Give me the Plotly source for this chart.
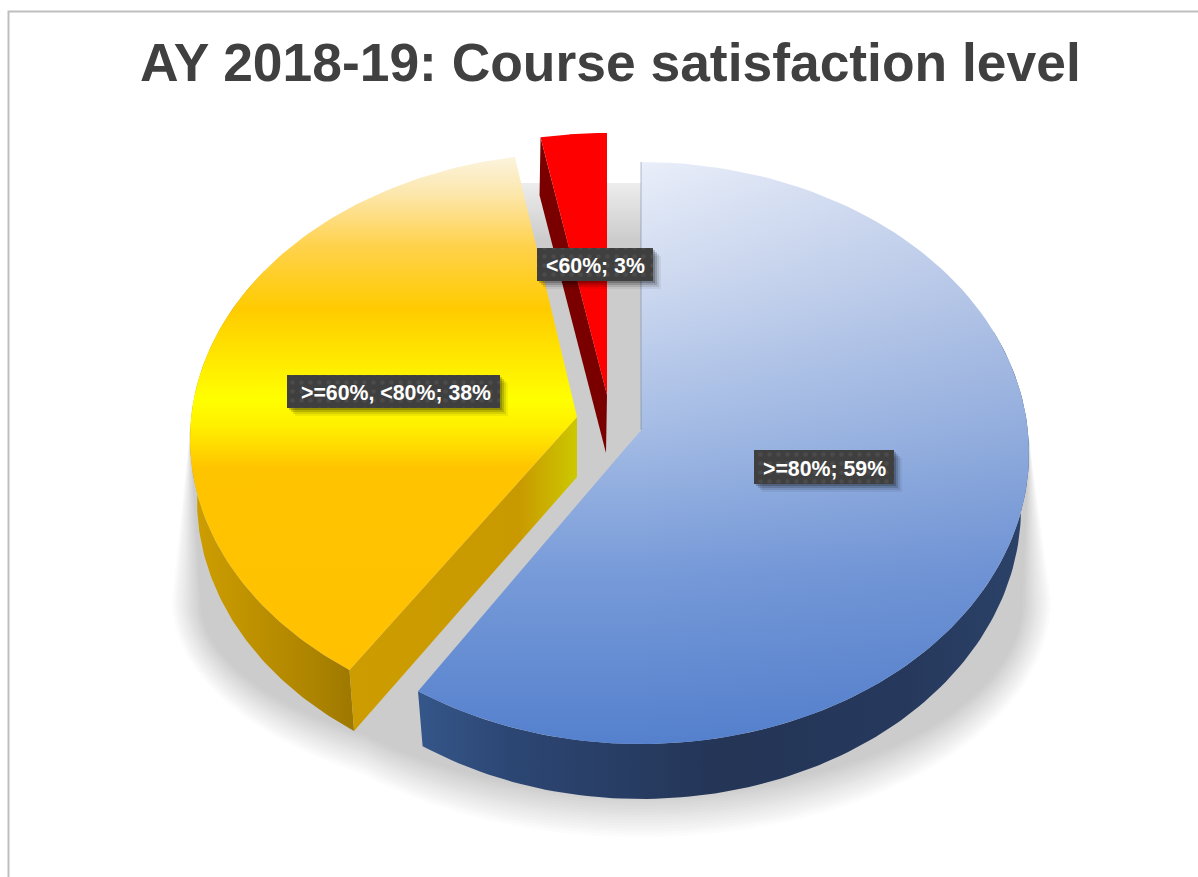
import math
import plotly.graph_objects as go

TITLE = "AY 2018-19: Course satisfaction level"
categories = [">=80%", ">=60%, <80%", "<60%"]
shares = [59, 38, 3]

# --- scene layout (pixel-like axes) ---
W, H = 1198, 877
SLICES = [
    dict(c=(641, 453), rx=388, ry=291, apex=(641, 430), c_b=(641, 508), rx_b=380, ry_b=291, apex_b=(641, 485), k=5),
    dict(c=(579, 439), rx=389, ry=286, apex=(577, 417), c_b=(580, 500), rx_b=383, ry_b=286, apex_b=(577, 477), k=7),
    dict(c=(607, 424), rx=388, ry=291, apex=(607, 395), c_b=(606, 482), rx_b=388, ry_b=291, apex_b=(606, 453), k=5),
]
LABEL_BOXES = [(754, 450, 894, 484), (287, 375, 500, 408), (537, 248, 653, 281)]
LABEL_SHIFT = [0, 2, 0]


def arc(S, bottom, a0, a1, n=120):
    c, rx, ry = (S["c_b"], S["rx_b"], S["ry_b"]) if bottom else (S["c"], S["rx"], S["ry"])
    xs, ys = [], []
    for i in range(n + 1):
        d = a0 + (a1 - a0) * i / n
        t = math.radians(d - S["k"] * math.sin(math.radians(d)))
        xs.append(c[0] + rx * math.sin(t))
        ys.append(c[1] - ry * math.cos(t))
    return xs, ys


def poly(fig, xs, ys, color=None, grad=None, pattern=None):
    kw = dict(x=list(xs) + [xs[0]], y=list(ys) + [ys[0]], mode="lines", fill="toself",
              hoverinfo="skip", showlegend=False, line=dict(width=0, color="rgba(0,0,0,0)"))
    if color:
        kw["fillcolor"] = color
    if grad:
        kw["fillgradient"] = grad
    if pattern:
        kw["fillpattern"] = pattern
    fig.add_trace(go.Scatter(**kw))


def vgrad(y0, y1, stops):
    return dict(type="vertical", start=y0, stop=y1, colorscale=stops)


def hgrad(x0, x1, stops):
    return dict(type="horizontal", start=x0, stop=x1, colorscale=stops)


fig = go.Figure()


# soft shadow
def half(cx, cy, rx, ry, left_to_right, n=80):
    xs, ys = [], []
    for i in range(n + 1):
        a = math.pi * i / n
        if not left_to_right:
            a = math.pi - a
        xs.append(cx - rx * math.cos(a))
        ys.append(cy + ry * math.sin(a))
    return xs, ys


LEVELS = 16
for i in range(LEVELS + 1):
    t = i / LEVELS
    v = round(255 - (255 - 204) * t)
    col = f"rgb({v},{v},{v})"
    xs, ys = half(590, 600, 420 - 30 * t, 210 - 45 * t, True)
    poly(fig, [190] + xs + [590], [430] + ys + [430], col)
    xs, ys = half(641, 600, 412 - 30 * t, 240 - 45 * t, False)
    poly(fig, [1029] + xs + [641], [440] + ys + [440], col)

# plate visible through the gaps
poly(fig, [515, 641, 641, 400, 340, 500], [183, 183, 430, 720, 680, 300],
     grad=vgrad(183, 240, [[0, "#EDEDED"], [1, "#CCCCCC"]]))

# slices
ang = [0.0]
for s in shares:
    ang.append(ang[-1] + 360 * s / sum(shares))

# blue
S = SLICES[0]
a0, a1 = ang[0], ang[1]
tx, ty = arc(S, False, 70, a1)
bx, by = arc(S, True, 70, a1)
poly(fig, tx + bx[::-1], ty + by[::-1],
     grad=hgrad(420, 1029, [[0, "#355689"], [0.15, "#2C4673"], [0.5, "#243556"], [0.8, "#26395D"], [1, "#2C4268"]]))
tx, ty = arc(S, False, a0, a1)
sx, sy = tx + [S["apex"][0]], ty + [S["apex"][1]]
poly(fig, sx, sy,
     grad=vgrad(162, 745, [[0, "#E9EEF9"], [0.2, "#CFDAF0"], [0.45, "#A6BDE5"], [0.7, "#789BD9"], [1, "#5480CD"]]))
poly(fig, sx, sy,
     grad=hgrad(641, 1029, [[0, "rgba(70,110,190,0)"], [1, "rgba(70,110,190,0.2)"]]))
fig.add_trace(go.Scatter(x=[tx[0], S["apex"][0]], y=[ty[0], S["apex"][1]], mode="lines", hoverinfo="skip",
                         showlegend=False, line=dict(color="rgba(90,110,150,0.3)", width=1.5)))

# yellow
S = SLICES[1]
a0, a1 = ang[1], ang[2]
tx, ty = arc(S, False, a0, 300)
bx, by = arc(S, True, a0, 300)
poly(fig, tx + bx[::-1], ty + by[::-1],
     grad=hgrad(190, 356, [[0, "#CF9F00"], [0.4, "#BD9000"], [0.75, "#AD8400"], [1, "#9C7700"]]))
tx, ty = arc(S, False, a0, a0)
bx, by = arc(S, True, a0, a0)
poly(fig, [tx[0], S["apex"][0], S["apex_b"][0], bx[0]], [ty[0], S["apex"][1], S["apex_b"][1], by[0]],
     grad=hgrad(348, 577, [[0, "#CC9C00"], [0.75, "#C99A00"], [1, "#CCC800"]]))
tx, ty = arc(S, False, a0, a1)
poly(fig, tx + [S["apex"][0]], ty + [S["apex"][1]],
     grad=vgrad(150, 680, [[0, "#FBF6E6"], [0.08, "#FCE7AE"], [0.18, "#FFD24D"], [0.3, "#FFCB00"],
                           [0.42, "#FFF000"], [0.47, "#FFFF00"], [0.52, "#FFF000"], [0.6, "#FFC400"], [1, "#FFC000"]]))

# red
S = SLICES[2]
a0, a1 = ang[2], ang[3]
tx, ty = arc(S, False, a0, a0)
bx, by = arc(S, True, a0, a0)
poly(fig, [tx[0], S["apex"][0], S["apex_b"][0], bx[0]], [ty[0], S["apex"][1], S["apex_b"][1], by[0]], "#7A0000")
tx, ty = arc(S, False, a0, a1)
poly(fig, tx + [S["apex"][0]], ty + [S["apex"][1]], "#FF0000")

# frame
fig.add_trace(go.Scatter(x=[W, 8.5, 8.5], y=[11.5, 11.5, H], mode="lines", hoverinfo="skip", showlegend=False,
                         line=dict(color="#BFBFBF", width=2)))

# data labels
for cat, val, (x0, y0, x1, y1), dx in zip(categories, shares, LABEL_BOXES, LABEL_SHIFT):
    for off, alpha in ((8, 0.06), (6, 0.10), (4, 0.15), (2, 0.20)):
        poly(fig, [x0 + off, x1 + off, x1 + off, x0 + off], [y0 + off, y0 + off, y1 + off, y1 + off],
             f"rgba(0,0,0,{alpha})")
    poly(fig, [x0, x1, x1, x0], [y0, y0, y1, y1], color="#3F3F3F",
         pattern=dict(shape=".", fgcolor="#4B4B4B", bgcolor="#3F3F3F", size=9, solidity=0.2, fillmode="replace"))
    fig.add_annotation(x=(x0 + x1) / 2 + dx, y=(y0 + y1) / 2 + 1.5, text=f"<b>{cat}; {val}%</b>", showarrow=False,
                       font=dict(family="Liberation Sans", size=21.3, color="#FFFFFF"))

fig.add_annotation(x=610, y=62, text=f"<b>{TITLE}</b>", showarrow=False,
                   font=dict(family="Liberation Sans", size=53.4, color="#404040"))

fig.update_layout(
    width=W, height=H, margin=dict(l=0, r=0, t=0, b=0),
    paper_bgcolor="white", plot_bgcolor="white",
    xaxis=dict(range=[0, W], visible=False, fixedrange=True),
    yaxis=dict(range=[H, 0], visible=False, fixedrange=True),
    showlegend=False,
)
fig.write_html("out.html", config={"displayModeBar": False},
               post_script="document.body.style.margin='0';document.body.style.overflow='hidden';")
